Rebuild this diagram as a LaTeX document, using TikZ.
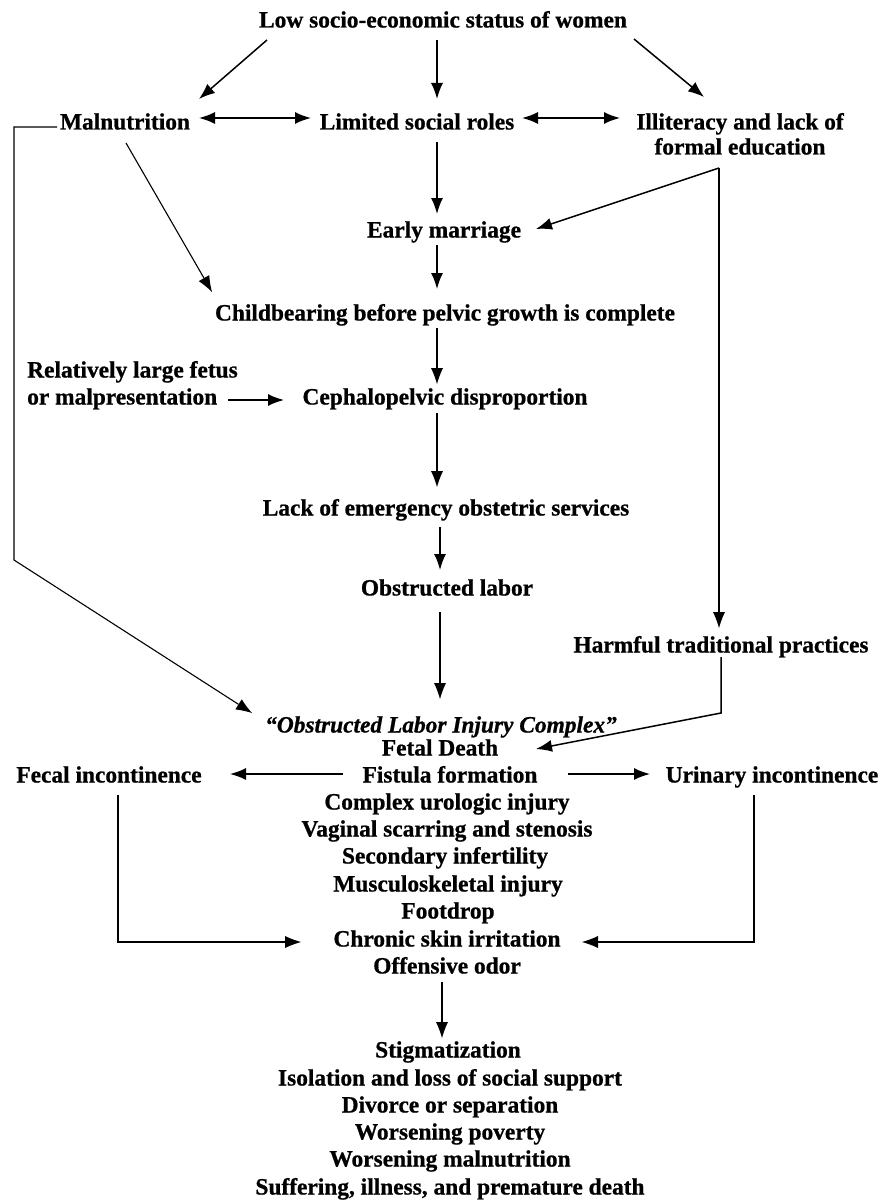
\documentclass[tikz,border=0pt]{standalone}
\usepackage{fontspec}
\setmainfont{Liberation Serif}[BoldFeatures={FakeBold=0.8},BoldItalicFeatures={FakeBold=0.8}]
\usetikzlibrary{arrows.meta}
\begin{document}
\begin{tikzpicture}[x=1pt,y=-1pt,
  lbl/.style={font=\fontsize{23.4}{27.3}\selectfont\bfseries, inner sep=0pt, text height=16pt, text depth=5pt},
  arr/.style={-{Latex[length=16pt,width=12pt]}, line width=1.5pt},
  thinarr/.style={-{Latex[length=16pt,width=12pt,line width=0pt]}, line width=1.1pt},
  dbl/.style={{Latex[length=16pt,width=12pt]}-{Latex[length=16pt,width=12pt]}, line width=1.6pt}]
\useasboundingbox (0,0) rectangle (890,1201);

% nodes
\node[lbl] (low) at (443,22) {Low socio-economic status of women};
\node[lbl] (maln) at (125,124) {Malnutrition};
\node[lbl] (lim) at (417,124) {Limited social roles};
\node[lbl] (illitA) at (740,124) {Illiteracy and lack of};
\node[lbl] (illitB) at (740,149) {formal education};
\node[lbl] (early) at (444,232) {Early marriage};
\node[lbl] (child) at (445,315) {Childbearing before pelvic growth is complete};
\node[lbl,anchor=west] (relA) at (27,372) {Relatively large fetus};
\node[lbl,anchor=west] (relB) at (27,399) {or malpresentation};
\node[lbl] (ceph) at (445,399) {Cephalopelvic disproportion};
\node[lbl] (lack) at (446,510) {Lack of emergency obstetric services};
\node[lbl] (obst) at (447,590) {Obstructed labor};
\node[lbl] (harm) at (721,647) {Harmful traditional practices};
\node[lbl,font=\fontsize{23.4}{27.3}\selectfont\bfseries\itshape] (olic) at (441,727) {“Obstructed Labor Injury Complex”};
\node[lbl] (fetal) at (440,750) {Fetal Death};
\node[lbl] (fist) at (450,777) {Fistula formation};
\node[lbl] (fecal) at (109,777) {Fecal incontinence};
\node[lbl] (urin) at (772,777) {Urinary incontinence};
\node[lbl] (compl) at (447,804) {Complex urologic injury};
\node[lbl] (vag) at (447,831) {Vaginal scarring and stenosis};
\node[lbl] (sec) at (445,858) {Secondary infertility};
\node[lbl] (musc) at (448,886) {Musculoskeletal injury};
\node[lbl] (foot) at (448,913) {Footdrop};
\node[lbl] (chron) at (447,941) {Chronic skin irritation};
\node[lbl] (off) at (447,968) {Offensive odor};
\node[lbl] (stig) at (448,1052) {Stigmatization};
\node[lbl] (iso) at (450,1080) {Isolation and loss of social support};
\node[lbl] (div) at (450,1107) {Divorce or separation};
\node[lbl] (wpov) at (450,1134) {Worsening poverty};
\node[lbl] (wmal) at (450,1161) {Worsening malnutrition};
\node[lbl] (suff) at (450,1189) {Suffering, illness, and premature death};

\coordinate (loopc) at (14,560);

% connectors
\draw[arr] ([shift={(-176,18)}]low.center) -- ([shift={(74,-25)}]maln.center);
\draw[arr] ([shift={(-6,18)}]low.center) -- ([shift={(20,-25)}]lim.center);
\draw[arr] ([shift={(191,17)}]low.center) -- ([shift={(-36,-27)}]illitA.center);
\draw[dbl] ([shift={(74,-6)}]maln.center) -- ([shift={(-106,-6)}]lim.center);
\draw[dbl] ([shift={(105,-6)}]lim.center) -- ([shift={(-120,-6)}]illitA.center);
\draw[thinarr] ([shift={(-68,3)}]maln.center) -| (loopc) -- ([shift={(-189,-14)}]olic.center);
\draw[thinarr] ([shift={(1,19)}]maln.center) -- ([shift={(-233,-23)}]child.center);
\draw[arr] ([shift={(20,18)}]lim.center) -- ([shift={(-7,-18)}]early.center);
\draw[arr] ([shift={(-21,19)}]illitB.center) -- ([shift={(92,-3)}]early.center);
\draw[thinarr] ([shift={(-21,19)}]illitB.center) -- ([shift={(-2,-19)}]harm.center);
\draw[arr] ([shift={(-7,13)}]early.center) -- ([shift={(-8,-26)}]child.center);
\draw[thinarr] ([shift={(-8,13)}]child.center) -- ([shift={(-8,-15)}]ceph.center);
\draw[arr] ([shift={(11,1)}]relB.east) -- ([shift={(-161,1)}]ceph.center);
\draw[thinarr] ([shift={(-8,14)}]ceph.center) -- ([shift={(-9,-23)}]lack.center);
\draw[arr] ([shift={(-6,17)}]lack.center) -- ([shift={(-7,-20)}]obst.center);
\draw[thinarr] ([shift={(-7,22)}]obst.center) -- ([shift={(-1,-28)}]olic.center);
\draw[arr] ([shift={(0,10)}]harm.center) -- ([shift={(0,66)}]harm.center) -- ([shift={(96,-1)}]fetal.center);
\draw[arr] ([shift={(-107,-3)}]fist.center) -- ([shift={(121,-3)}]fecal.center);
\draw[arr] ([shift={(118,-3)}]fist.center) -- ([shift={(-122,-3)}]urin.center);
\draw[thinarr] ([shift={(9,18)}]fecal.center) |- ([shift={(-146,1)}]chron.center);
\draw[thinarr] ([shift={(-18,18)}]urin.center) |- ([shift={(135,1)}]chron.center);
\draw[thinarr] ([shift={(-5,14)}]off.center) -- ([shift={(-6,-14)}]stig.center);
\end{tikzpicture}
\end{document}
